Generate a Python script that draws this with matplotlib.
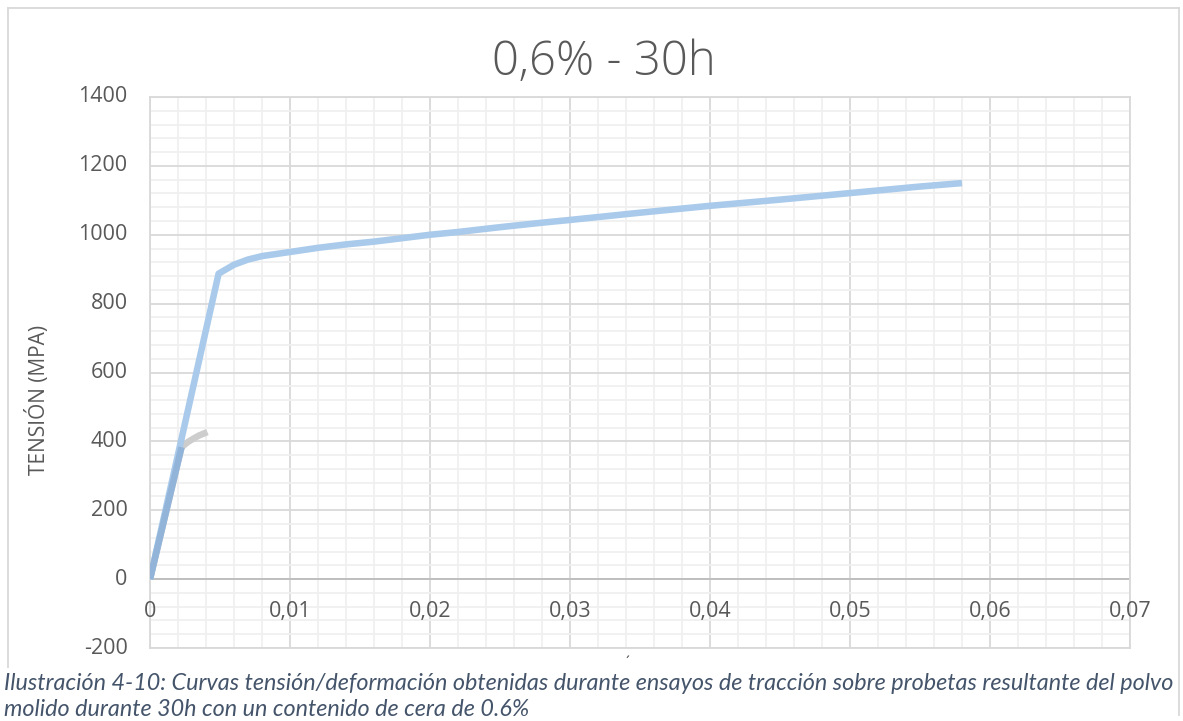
import matplotlib
matplotlib.use("Agg")
import matplotlib.pyplot as plt
from matplotlib.ticker import MultipleLocator
from matplotlib.lines import Line2D

# Stress-strain data for the three specimens (strain, MPa)
strain_a = [0.0, 0.0049, 0.006, 0.007, 0.008, 0.010, 0.012, 0.014, 0.016,
            0.018, 0.020, 0.022, 0.025, 0.028, 0.030, 0.035, 0.040, 0.045,
            0.050, 0.055, 0.058]
stress_a = [0, 887, 913, 928, 938, 950, 962, 972, 980, 990, 1000, 1008,
            1022, 1035, 1043, 1064, 1084, 1102, 1121, 1140, 1150]

strain_b = [0.0, 0.00225, 0.0024, 0.0027, 0.0031, 0.0035, 0.0041]
stress_b = [0, 383, 388, 398, 408, 417, 427]

strain_c = [0.0, 0.00225]
stress_c = [0, 383]

x_ticks = [0, 0.01, 0.02, 0.03, 0.04, 0.05, 0.06, 0.07]
y_ticks = [-200, 0, 200, 400, 600, 800, 1000, 1200, 1400]

title = "0,6% - 30h"
y_label = "TENSIÓN (MPA)"
caption_1 = ("Ilustración 4-10: Curvas tensión/deformación obtenidas durante "
             "ensayos de tracción sobre probetas resultante del polvo")
caption_2 = "molido durante 30h con un contenido de cera de 0.6%"

W, H = 1183, 721
fig = plt.figure(figsize=(W / 100, H / 100), dpi=100)
fig.patch.set_facecolor("white")

font = ["Open Sans", "DejaVu Sans"]
cap_font = ["Lato", "DejaVu Sans"]
text_color = "#595959"

ax = fig.add_axes([150 / W, 1 - 648 / H, 980 / W, 551 / H])
ax.set_xlim(0, 0.07)
ax.set_ylim(-200, 1400)

ax.xaxis.set_major_locator(MultipleLocator(0.01))
ax.xaxis.set_minor_locator(MultipleLocator(0.002))
ax.yaxis.set_major_locator(MultipleLocator(200))
ax.yaxis.set_minor_locator(MultipleLocator(40))
ax.grid(which="major", color="#D9D9D9", linewidth=1.3, zorder=0)
ax.grid(which="minor", color="#F0F0F0", linewidth=1.3, zorder=0)
ax.set_axisbelow(True)
for s in ax.spines.values():
    s.set_color("#D9D9D9")
    s.set_linewidth(1.3)

ax.tick_params(which="both", length=0)
ax.set_xticks(x_ticks)
ax.set_yticks(y_ticks)
ax.set_xticklabels([])
ax.set_yticklabels([])

# y tick labels
for v in y_ticks:
    ax.text(-0.0016, v, f"{v}", ha="right", va="center", fontsize=15.5,
            color=text_color, family=font, clip_on=False)

# x tick labels sit just below the zero line
def fmt(v):
    return "0" if v == 0 else f"{v:.2f}".replace(".", ",")

for v in x_ticks:
    ax.text(v, -95, fmt(v), ha="center", va="center", fontsize=15.5,
            color=text_color, family=font, clip_on=False)

# zero line
ax.axhline(0, color="#BFBFBF", linewidth=1.4, zorder=1)

ax.plot(strain_b, stress_b, color="#CDCDCD", linewidth=4.7,
        solid_capstyle="butt", zorder=2)
ax.plot(strain_a, stress_a, color="#A9CAEA", linewidth=4.7,
        solid_capstyle="butt", solid_joinstyle="round", zorder=3)
ax.plot(strain_c, stress_c, color="#92B4D8", linewidth=4.7,
        solid_capstyle="butt", zorder=4)

fig.text(604 / W, 1 - 63 / H, title, ha="center", va="center",
         fontsize=34, color=text_color, family=font, fontweight="light")
fig.text(38 / W, 1 - 400 / H, y_label, ha="center", va="center",
         rotation=90, fontsize=15, color=text_color, family=font)

# outer chart frame
frame = "#D9D9D9"
fig.add_artist(Line2D([8 / W, 8 / W], [1 - 667 / H, 1 - 8 / H],
                      color=frame, linewidth=1.3, transform=fig.transFigure))
fig.add_artist(Line2D([8 / W, 1179 / W], [1 - 8 / H, 1 - 8 / H],
                      color=frame, linewidth=1.3, transform=fig.transFigure))
fig.add_artist(Line2D([1179 / W, 1179 / W], [1 - 715 / H, 1 - 8 / H],
                      color=frame, linewidth=1.3, transform=fig.transFigure))

fig.text(627 / W, 1 - 663 / H, "´", ha="center", va="center",
         fontsize=10, color="#404040", family=font)

cap_color = "#44546A"
fig.text(4 / W, 1 - 683 / H, caption_1, ha="left", va="center",
         fontsize=16.8, color=cap_color, family=cap_font, style="italic")
fig.text(4 / W, 1 - 709 / H, caption_2, ha="left", va="center",
         fontsize=16.8, color=cap_color, family=cap_font, style="italic")

fig.savefig("out.png", dpi=100, facecolor="white")
